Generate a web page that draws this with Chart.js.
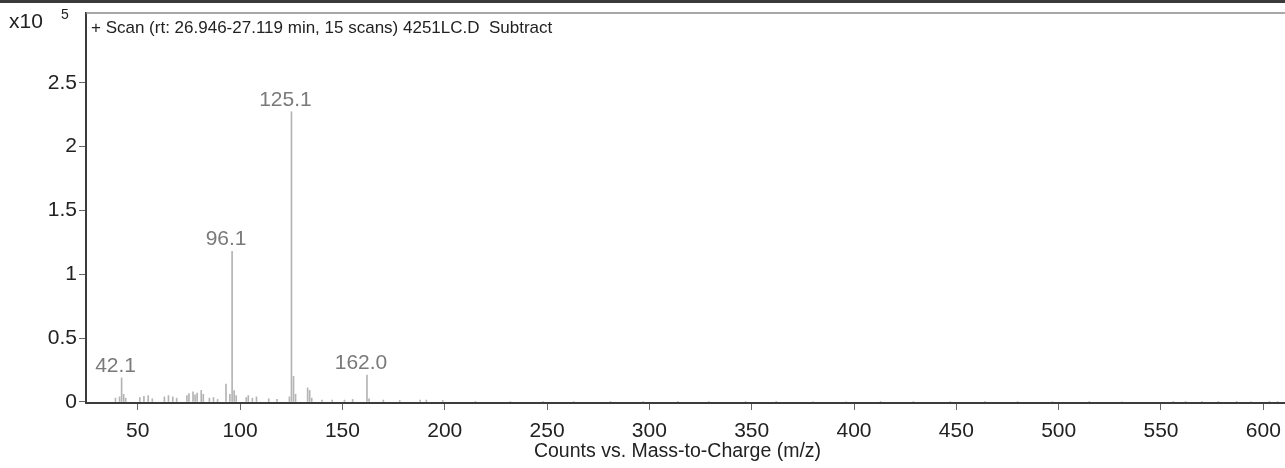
<!DOCTYPE html>
<html>
<head>
<meta charset="utf-8">
<script src="https://cdn.jsdelivr.net/npm/chart.js@4.4.1/dist/chart.umd.min.js"></script>
<style>
  html, body { margin: 0; padding: 0; background: #fff; }
  #wrap { position: relative; width: 1285px; height: 468px; overflow: hidden; }
  #band { position: absolute; left: 0; top: 0; width: 1285px; height: 3px; background: #3a3a3a; }
  canvas { position: absolute; left: 0; top: 0; }
</style>
</head>
<body>
<div id="wrap">
  <canvas id="ms" width="1285" height="468"></canvas>
  <div id="band"></div>
</div>
<script>
// Mass spectrum: m/z values and their abundances (counts)
const mzValues = [
  39.1, 41.1, 42.1, 43.1, 44.1, 51.0, 53.0, 55.1, 57.1, 63.0, 65.0, 67.1, 69.0,
  74.0, 75.0, 77.0, 78.0, 79.0, 81.0, 82.0, 85.0, 87.0, 89.0, 93.1, 95.0, 96.1,
  97.1, 98.1, 103.0, 104.0, 106.0, 108.0, 114.0, 118.0, 124.1, 125.1, 126.1,
  127.1, 133.0, 134.0, 135.0, 140.0, 145.0, 151.0, 155.0, 162.0, 163.0, 170.0,
  178.0, 188.0, 191.0, 199.0, 215.0, 232.0, 248.0, 263.0, 281.0, 297.0, 314.0,
  329.0, 347.0, 362.0, 380.0, 396.0, 413.0, 429.0, 447.0, 464.0, 480.0, 497.0,
  515.0, 531.0, 556.0, 562.0, 570.0, 578.0, 587.0, 594.0, 603.0, 607.0
];
const counts = [
  3000, 4000, 18800, 6000, 3000, 3500, 4500, 5000, 2500, 4000, 5000, 4000, 3000,
  5000, 6500, 8000, 5500, 7000, 9000, 6000, 3000, 3500, 2000, 14000, 6000, 118000,
  9000, 5000, 3500, 5000, 3000, 4000, 2500, 2000, 4000, 227300, 20000,
  6000, 11000, 9000, 3000, 1500, 1500, 1500, 2000, 21100, 2500, 1500,
  1200, 1500, 1500, 1200, 500, 400, 500, 400, 500, 400, 500,
  400, 400, 500, 400, 400, 500, 400, 400, 500, 400, 400,
  500, 400, 500, 500, 600, 500, 500, 400, 600, 500
];
// Peaks annotated with their m/z
const labeledPeaks = [42.1, 96.1, 125.1, 162.0];

const xTickValues = [50, 100, 150, 200, 250, 300, 350, 400, 450, 500, 550, 600];
const yTickValues = [0, 50000, 100000, 150000, 200000, 250000];

const scanTitle = '+ Scan (rt: 26.946-27.119 min, 15 scans) 4251LC.D  Subtract';
const xAxisTitle = 'Counts vs. Mass-to-Charge (m/z)';

const FONT = "'Liberation Sans', Arial, Helvetica, sans-serif";

const points = mzValues.map((m, i) => ({ x: m, y: counts[i] }));

const annotate = {
  id: 'annotate',
  afterDraw(chart) {
    const ctx = chart.ctx;
    const area = chart.chartArea;
    const xs = chart.scales.x, ys = chart.scales.y;
    ctx.save();
    // top frame line
    ctx.strokeStyle = '#8a8a8a';
    ctx.lineWidth = 1.5;
    ctx.beginPath();
    ctx.moveTo(area.left, area.top);
    ctx.lineTo(area.right, area.top);
    ctx.stroke();

    // peak labels
    ctx.fillStyle = '#7a7a7a';
    ctx.font = '21px ' + FONT;
    ctx.textAlign = 'center';
    ctx.textBaseline = 'alphabetic';
    labeledPeaks.forEach(m => {
      const i = mzValues.indexOf(m);
      const px = xs.getPixelForValue(m);
      const py = ys.getPixelForValue(counts[i]);
      ctx.fillText(m.toFixed(1), px - 6, py - 6);
    });

    // scan header inside plot
    ctx.fillStyle = '#222';
    ctx.font = '17px ' + FONT;
    ctx.textAlign = 'left';
    ctx.textBaseline = 'middle';
    ctx.fillText(scanTitle, area.left + 5, area.top + 15);

    // y multiplier
    ctx.font = '21px ' + FONT;
    ctx.textAlign = 'left';
    ctx.fillText('x10', 9, area.top + 9);
    ctx.font = '14px ' + FONT;
    ctx.fillText('5', 61, area.top + 2);

    // x axis title
    ctx.font = '19.5px ' + FONT;
    ctx.textAlign = 'center';
    ctx.fillText(xAxisTitle, (area.left + area.right) / 2 - 8, 452);
    ctx.restore();
  }
};

new Chart(document.getElementById('ms'), {
  type: 'bar',
  data: {
    datasets: [{
      data: points,
      backgroundColor: '#b4b4b4',
      barThickness: 1,
      borderWidth: 0
    }]
  },
  options: {
    responsive: false,
    animation: false,
    devicePixelRatio: 1,
    layout: { padding: { top: 13, right: 0, left: 0, bottom: 0 } },
    plugins: { legend: { display: false }, tooltip: { enabled: false } },
    scales: {
      x: {
        type: 'linear',
        min: 24.7,
        max: 610.6,
        offset: false,
        afterFit(s) { s.height = 65; s.paddingLeft = 0; s.paddingRight = 0; },
        afterBuildTicks(s) { s.ticks = xTickValues.map(v => ({ value: v })); },
        border: { display: true, color: '#3c3c3c', width: 2 },
        grid: { offset: false, drawOnChartArea: false, drawTicks: true, tickLength: 7, color: '#666' },
        ticks: {
          font: { family: FONT, size: 21 },
          color: '#222',
          padding: 9,
          maxRotation: 0,
          autoSkip: false,
          callback: v => String(v)
        }
      },
      y: {
        type: 'linear',
        min: -800,
        max: 304600,
        afterFit(s) { s.width = 86; s.paddingTop = 0; s.paddingBottom = 0; },
        afterBuildTicks(s) { s.ticks = yTickValues.map(v => ({ value: v })); },
        border: { display: true, color: '#3c3c3c', width: 2 },
        grid: { offset: false, drawOnChartArea: false, drawTicks: true, tickLength: 7, color: '#666' },
        ticks: {
          font: { family: FONT, size: 21 },
          color: '#222',
          padding: 2,
          autoSkip: false,
          callback: v => String(v / 1e5)
        }
      }
    }
  },
  plugins: [annotate]
});
</script>
</body>
</html>
